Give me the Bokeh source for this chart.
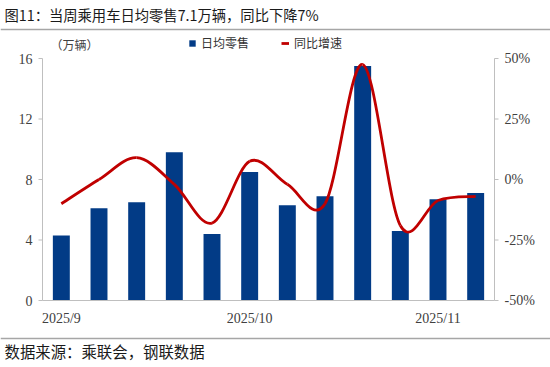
from bokeh.plotting import figure
from bokeh.models import Range1d, Label, Legend, LegendItem, ColumnDataSource
from bokeh.core.properties import value
from bokeh.embed import file_html
from bokeh.resources import INLINE

# ---- data ----
weeks = list(range(1, 13))
daily_retail = [4.3, 6.1, 6.5, 9.8, 4.4, 8.5, 6.3, 6.9, 15.5, 4.6, 6.7, 7.1]   # 万辆
yoy_pct = [-10, 0, 9, -2, -18, 7.5, -2, -10, 47.5, -19, -8.7, -7]             # %
month_tick_pos = [1, 6, 11]
month_tick_labels = ["2025/9", "2025/10", "2025/11"]
left_ticks = [0, 4, 8, 12, 16]
left_tick_labels = ["0", "4", "8", "12", "16"]
right_ticks = [-50, -25, 0, 25, 50]
right_tick_labels = ["-50%", "-25%", "0%", "25%", "50%"]

title_text = "图11：当周乘用车日均零售7.1万辆，同比下降7%"
source_text = "数据来源：乘联会，钢联数据"
unit_text = "（万辆）"

# ---- style / layout (pixels) ----
W, H = 550, 367
PL, PR, PT, PB = 42, 494, 58, 300          # plot area in canvas pixels
X0, X1 = 0.5, 12.5                          # category window
Y0, Y1 = 0, 16                              # left axis window
R0, R1 = -50, 50                            # right axis window
BLUE = "#023B86"
RED = "#C00000"
AXIS = "#BFBFBF"
TXT = "#404040"
NUMFONT = "Liberation Serif"
CJK = "Noto Sans CJK SC"

kx = (PR - PL) / (X1 - X0)
ky = (PB - PT) / (Y1 - Y0)
kr = (PB - PT) / (R1 - R0)

def px_x(px):
    return X0 + (px - PL) / kx

def px_y(py):
    return Y0 + (PB - py) / ky

def px_r(py):
    return R0 + (PB - py) / kr

p = figure(width=W, height=H, output_backend="svg", toolbar_location=None,
           x_range=Range1d(px_x(0), px_x(W)), y_range=Range1d(px_y(H), px_y(0)),
           min_border=0, x_axis_type=None, y_axis_type=None)
p.outline_line_color = None
p.xgrid.visible = False
p.ygrid.visible = False
p.extra_y_ranges = {"pct": Range1d(px_r(H), px_r(0))}

# bars
src = ColumnDataSource(dict(x=weeks, y=daily_retail))
bars = p.vbar(x="x", top="y", width=0.45, source=src, fill_color=BLUE, line_color=None)

# smoothed line (Excel-like Catmull-Rom bezier through the data points)
n = len(weeks)
x0, y0, x1, y1, cx0, cy0, cx1, cy1 = [], [], [], [], [], [], [], []
for i in range(n - 1):
    xp = weeks[i - 1] if i > 0 else weeks[i]
    yp = yoy_pct[i - 1] if i > 0 else yoy_pct[i]
    xn = weeks[i + 2] if i + 2 < n else weeks[i + 1]
    yn = yoy_pct[i + 2] if i + 2 < n else yoy_pct[i + 1]
    x0.append(weeks[i]); y0.append(yoy_pct[i])
    x1.append(weeks[i + 1]); y1.append(yoy_pct[i + 1])
    cx0.append(weeks[i] + (weeks[i + 1] - xp) / 6.0)
    cy0.append(yoy_pct[i] + (yoy_pct[i + 1] - yp) / 6.0)
    cx1.append(weeks[i + 1] - (xn - weeks[i]) / 6.0)
    cy1.append(yoy_pct[i + 1] - (yn - yoy_pct[i]) / 6.0)
bsrc = ColumnDataSource(dict(x0=x0, y0=y0, x1=x1, y1=y1, cx0=cx0, cy0=cy0, cx1=cx1, cy1=cy1))
curve = p.bezier(x0="x0", y0="y0", x1="x1", y1="y1", cx0="cx0", cy0="cy0", cx1="cx1", cy1="cy1",
                 source=bsrc, line_color=RED, line_width=2.8, y_range_name="pct")

# ---- axes (drawn with the plot's scales) ----
TICK = 4
p.segment(x0=[X0], y0=[Y0], x1=[X0], y1=[Y1], line_color=AXIS, line_width=1)
p.segment(x0=[X0], y0=[Y0], x1=[X1], y1=[Y0], line_color=AXIS, line_width=1)
p.segment(x0=[X1], y0=[R0], x1=[X1], y1=[R1], line_color=AXIS, line_width=1, y_range_name="pct")
p.segment(x0=[X0 - TICK / kx] * len(left_ticks), y0=left_ticks,
          x1=[X0] * len(left_ticks), y1=left_ticks, line_color=AXIS, line_width=1)
p.segment(x0=[X1] * len(right_ticks), y0=right_ticks,
          x1=[X1 + TICK / kx] * len(right_ticks), y1=right_ticks,
          line_color=AXIS, line_width=1, y_range_name="pct")
lsrc = ColumnDataSource(dict(x=[X0 - 10 / kx] * len(left_ticks), y=left_ticks, t=left_tick_labels))
p.text(x="x", y="y", text="t", source=lsrc, text_align="right", text_baseline="middle",
       text_font=value(NUMFONT), text_font_size="14px", text_color=TXT)
rsrc = ColumnDataSource(dict(x=[X1 + 10 / kx] * len(right_ticks), y=right_ticks, t=right_tick_labels))
p.text(x="x", y="y", text="t", source=rsrc, text_align="left", text_baseline="middle",
       text_font=value(NUMFONT), text_font_size="14px", text_color=TXT, y_range_name="pct")
bsrc2 = ColumnDataSource(dict(x=month_tick_pos, y=[Y0 - 18 / ky] * len(month_tick_pos), t=month_tick_labels))
p.text(x="x", y="y", text="t", source=bsrc2, text_align="center", text_baseline="middle",
       text_font=value(NUMFONT), text_font_size="14px", text_color=TXT)

# ---- legend ----
legend = Legend(items=[LegendItem(label="日均零售", renderers=[bars]),
                       LegendItem(label="同比增速", renderers=[curve])],
                location=(188, H - 51), orientation="horizontal",
                glyph_width=8, glyph_height=8, label_height=12, label_standoff=5,
                spacing=32, padding=0, margin=0,
                label_text_font=CJK, label_text_font_size="12px", label_text_color="#333333",
                background_fill_alpha=0, border_line_color=None)
p.add_layout(legend, "center")

# ---- titles and rules ----
p.add_layout(Label(x=px_x(4), y=px_y(14), text=title_text, text_font=CJK,
                   text_font_size="14.3px", text_color="#1a1a1a", text_baseline="middle",
                   text_align="left"))
p.add_layout(Label(x=px_x(50), y=px_y(44), text=unit_text, text_font=CJK,
                   text_font_size="12px", text_color=TXT, text_baseline="middle",
                   text_align="left"))
p.add_layout(Label(x=px_x(4), y=px_y(350), text=source_text, text_font=CJK,
                   text_font_size="15.4px", text_color="#1a1a1a", text_baseline="middle",
                   text_align="left"))
p.segment(x0=[px_x(0)] * 2, x1=[px_x(W)] * 2, y0=[px_y(29), px_y(338)], y1=[px_y(29), px_y(338)],
          line_color="#A6A6A6", line_width=1.5)

open("out.html", "w").write(file_html(p, INLINE))
